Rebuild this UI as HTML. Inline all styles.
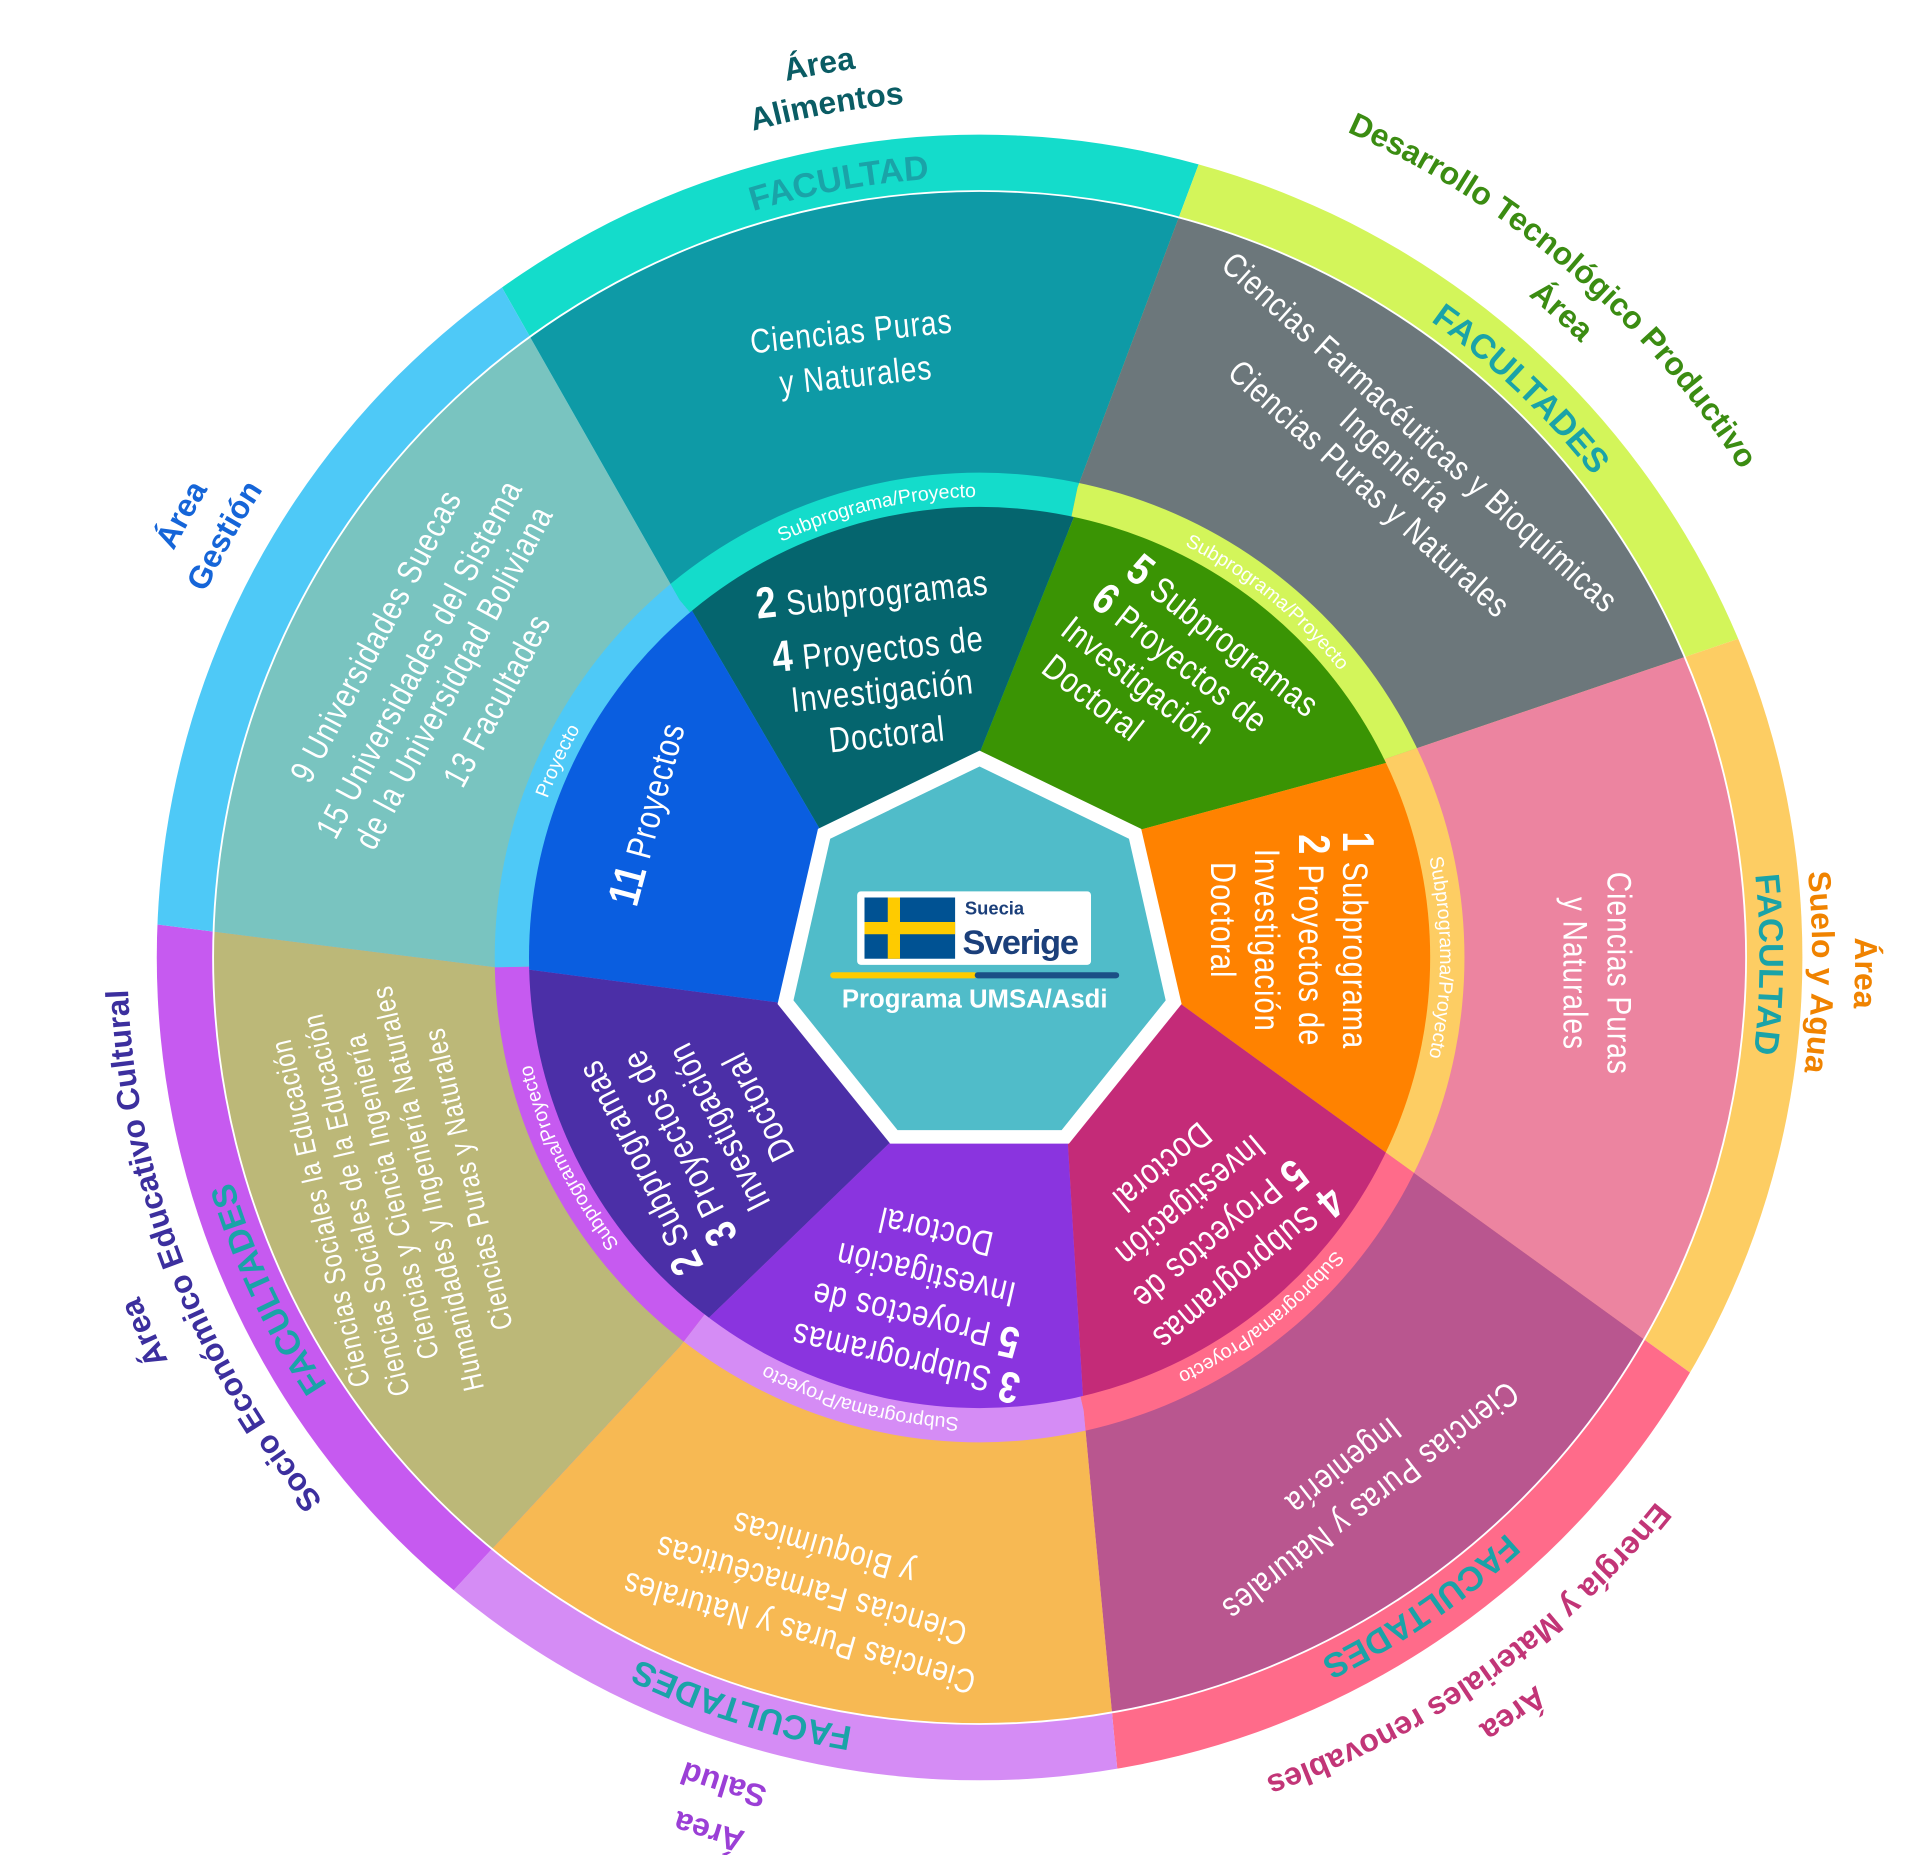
<!DOCTYPE html>
<html><head><meta charset="utf-8">
<style>
html,body{margin:0;padding:0;background:#fff;width:1920px;height:1855px;overflow:hidden;}
svg{display:block;}
text{font-family:"Liberation Sans Narrow","Liberation Sans",sans-serif;}
.w{fill:#fff;font-size:28px;letter-spacing:1px;}
.b{font-weight:bold;}
.band{fill:#fff;font-size:16px;letter-spacing:0px;}
.fac{font-size:28px;font-weight:bold;letter-spacing:0px;}
.area{font-size:26px;font-weight:bold;letter-spacing:0px;}
</style></head>
<body>
<svg width="1920" height="1855" viewBox="0 0 1568 1515" xmlns="http://www.w3.org/2000/svg">
<defs>
<clipPath id="c4"><circle cx="800" cy="782" r="672"/></clipPath>
<clipPath id="c3"><circle cx="800" cy="782" r="626"/></clipPath>
<clipPath id="c2"><circle cx="800" cy="782" r="396"/></clipPath>
<clipPath id="c1"><circle cx="800" cy="782" r="368"/></clipPath>
<path id="p376" d="M800,1158 A376,376 0 1 1 800,406 A376,376 0 1 1 800,1158"/>
<path id="p637" d="M800,1419 A637,637 0 1 1 800,145 A637,637 0 1 1 800,1419"/>
<path id="p733" d="M800,1515 A733,733 0 1 1 800,49 A733,733 0 1 1 800,1515"/>
<path id="p700" d="M800,1482 A700,700 0 1 1 800,82 A700,700 0 1 1 800,1482"/>
<path id="p737" d="M800,1519 A737,737 0 1 1 800,45 A737,737 0 1 1 800,1519"/>
<path id="p705" d="M800,1487 A705,705 0 1 1 800,77 A705,705 0 1 1 800,1487"/>
<path id="p715" d="M800,1497 A715,715 0 1 1 800,67 A715,715 0 1 1 800,1497"/>
<path id="p680" d="M800,1462 A680,680 0 1 1 800,102 A680,680 0 1 1 800,1462"/>
<path id="p748" d="M800,1530 A748,748 0 1 1 800,34 A748,748 0 1 1 800,1530"/>
<path id="p709" d="M800,1491 A709,709 0 1 1 800,73 A709,709 0 1 1 800,1491"/>
<path id="p739" d="M800,1521 A739,739 0 1 1 800,43 A739,739 0 1 1 800,1521"/>
<path id="p699" d="M800,1481 A699,699 0 1 1 800,83 A699,699 0 1 1 800,1481"/>
<path id="p740" d="M800,1522 A740,740 0 1 1 800,42 A740,740 0 1 1 800,1522"/>
<path id="p696" d="M800,1478 A696,696 0 1 1 800,86 A696,696 0 1 1 800,1478"/>
<path id="p702" d="M800,1484 A702,702 0 1 1 800,80 A702,702 0 1 1 800,1484"/>
<path id="p738" d="M800,1520 A738,738 0 1 1 800,44 A738,738 0 1 1 800,1520"/>
</defs>

<g clip-path="url(#c4)">
<polygon fill="#14dccb" points="800,782 555,490 265,-20 592,-400 1090,-162 880,398"/>
<polygon fill="#d3f55a" points="800,782 880,398 1090,-162 1587,-124 1695,428 1125,622"/>
<polygon fill="#fdcd63" points="800,782 1125,622 1695,428 1998,845 1600,1280 1130,940"/>
<polygon fill="#ff6b8a" points="800,782 1130,940 1600,1280 1488,1765 939,1728 885,1152"/>
<polygon fill="#d58cf5" points="800,782 885,1152 939,1728 449,1930 165,1520 555,1100"/>
<polygon fill="#c65af0" points="800,782 555,1100 165,1520 -296,1270 -149,720 405,790"/>
<polygon fill="#4ec9f7" points="800,782 405,790 -149,720 -260,219 265,-20 555,490"/>
</g>
<g clip-path="url(#c3)">
<polygon fill="#0e9aa6" points="800,782 555,490 265,-20 592,-400 1090,-162 880,398"/>
<polygon fill="#6c777b" points="800,782 880,398 1090,-162 1587,-124 1695,428 1125,622"/>
<polygon fill="#ec84a0" points="800,782 1125,622 1695,428 1998,845 1600,1280 1130,940"/>
<polygon fill="#b9568f" points="800,782 1130,940 1600,1280 1488,1765 939,1728 885,1152"/>
<polygon fill="#f7b953" points="800,782 885,1152 939,1728 449,1930 165,1520 555,1100"/>
<polygon fill="#bcb878" points="800,782 555,1100 165,1520 -296,1270 -149,720 405,790"/>
<polygon fill="#79c4c0" points="800,782 405,790 -149,720 -260,219 265,-20 555,490"/>
</g>
<circle cx="800" cy="782" r="626" fill="none" stroke="#fff" stroke-width="1.5"/>
<g clip-path="url(#c2)">
<polygon fill="#14dccb" points="800,782 555,490 265,-20 592,-400 1090,-162 880,398"/>
<polygon fill="#d3f55a" points="800,782 880,398 1090,-162 1587,-124 1695,428 1125,622"/>
<polygon fill="#fdcd63" points="800,782 1125,622 1695,428 1998,845 1600,1280 1130,940"/>
<polygon fill="#ff6b8a" points="800,782 1130,940 1600,1280 1488,1765 939,1728 885,1152"/>
<polygon fill="#d58cf5" points="800,782 885,1152 939,1728 449,1930 165,1520 555,1100"/>
<polygon fill="#c65af0" points="800,782 555,1100 165,1520 -296,1270 -149,720 405,790"/>
<polygon fill="#4ec9f7" points="800,782 405,790 -149,720 -260,219 265,-20 555,490"/>
</g>
<g clip-path="url(#c1)">
<polygon fill="#05656e" points="800,782 670,678 340,114 592,-400 1040,15 800,615"/>
<polygon fill="#3a9404" points="800,782 800,615 1040,15 1649,-67 1515,519 930,678"/>
<polygon fill="#ff8200" points="800,782 930,678 1515,519 1982,990 1464,1182 963,819"/>
<polygon fill="#c42b78" points="800,782 963,819 1464,1182 1400,1821 911,1586 872,932"/>
<polygon fill="#8a34df" points="800,782 872,932 911,1586 390,1910 269,1376 728,932"/>
<polygon fill="#4b2fa7" points="800,782 728,932 269,1376 -313,1232 25,738 637,819"/>
<polygon fill="#0a5ee0" points="800,782 637,819 25,738 -239,182 340,114 670,678"/>
</g>
<polygon fill="#fff" points="800,613 932,677 965,820 873,934 727,934 635,820 668,677"/>
<polygon fill="#50bcc9" points="800,626 922,685 952,817 867,923 733,923 648,817 678,685"/>

<rect x="700" y="728" width="191" height="60" rx="3" fill="#fff"/>
<rect x="706" y="733" width="74" height="50" fill="#005293"/>
<rect x="725" y="733" width="10" height="50" fill="#fecb00"/>
<rect x="706" y="753" width="74" height="10" fill="#fecb00"/>
<text x="788" y="747" style="font-family:'Liberation Sans',sans-serif;font-size:15px;font-weight:bold;fill:#1b3f7a">Suecia</text>
<text x="786" y="779" style="font-family:'Liberation Sans',sans-serif;font-size:28px;font-weight:bold;fill:#1b3f7a;letter-spacing:-1px">Sverige</text>
<rect x="678" y="794" width="120" height="5" rx="2.5" fill="#fecb00"/>
<rect x="796" y="794" width="118" height="5" rx="2.5" fill="#1b4f86"/>
<text x="796" y="823" text-anchor="middle" style="font-family:'Liberation Sans',sans-serif;font-size:21px;font-weight:bold;fill:#fff">Programa UMSA/Asdi</text>

<g class="band" text-anchor="middle">
<text><textPath href="#p376" startOffset="46.39%">Subprograma/Proyecto</textPath></text>
<text><textPath href="#p376" startOffset="60.83%">Subprograma/Proyecto</textPath></text>
<text><textPath href="#p376" startOffset="75%">Subprograma/Proyecto</textPath></text>
<text><textPath href="#p376" startOffset="89.44%">Subprograma/Proyecto</textPath></text>
<text><textPath href="#p376" startOffset="4.2%">Subprograma/Proyecto</textPath></text>
<text><textPath href="#p376" startOffset="17.78%">Subprograma/Proyecto</textPath></text>
<text><textPath href="#p376" startOffset="31.94%">Proyecto</textPath></text>
</g>

<g class="fac" text-anchor="middle" fill="#1aa3a8">
<text><textPath href="#p637" startOffset="47.14%">FACULTAD</textPath></text>
<text><textPath href="#p637" startOffset="62.11%">FACULTADES</textPath></text>
<text><textPath href="#p637" startOffset="75.14%">FACULTAD</textPath></text>
<text><textPath href="#p637" startOffset="90.5%">FACULTADES</textPath></text>
<text><textPath href="#p637" startOffset="4.9%">FACULTADES</textPath></text>
<text><textPath href="#p637" startOffset="18.06%">FACULTADES</textPath></text>
</g>

<g class="area" text-anchor="middle">
<text fill="#0a5c64"><textPath href="#p733" startOffset="47.17%">Área</textPath></text>
<text fill="#0a5c64"><textPath href="#p700" startOffset="47.17%">Alimentos</textPath></text>
<text fill="#3b8c12"><textPath href="#p702" startOffset="61.67%">Área</textPath></text>
<text fill="#3b8c12"><textPath href="#p738" startOffset="61.3%">Desarrollo Tecnológico Productivo</textPath></text>
<text fill="#f08300"><textPath href="#p715" startOffset="75.28%">Área</textPath></text>
<text fill="#f08300"><textPath href="#p680" startOffset="75.28%">Suelo y Agua</textPath></text>
<text fill="#c23577"><textPath href="#p748" startOffset="90.22%">Área</textPath></text>
<text fill="#c23577"><textPath href="#p709" startOffset="90.22%">Energía y Materiales renovables</textPath></text>
<text fill="#9b3fd6"><textPath href="#p739" startOffset="4.78%">Área</textPath></text>
<text fill="#9b3fd6"><textPath href="#p699" startOffset="4.78%">Salud</textPath></text>
<text fill="#3c2f9e"><textPath href="#p740" startOffset="18.28%">Área</textPath></text>
<text fill="#3c2f9e"><textPath href="#p696" startOffset="19.2%">Socio Económico Educativo Cultural</textPath></text>
<text fill="#1565d8"><textPath href="#p737" startOffset="33.06%">Área</textPath></text>
<text fill="#1565d8"><textPath href="#p699" startOffset="33.11%">Gestión</textPath></text>
</g>

<g class="w" text-anchor="middle">
<g transform="translate(697,288) rotate(-6) scale(0.82,1)">
<text x="0" y="-8">Ciencias Puras</text>
<text x="0" y="28">y Naturales</text>
</g>
<g transform="translate(1140,375) rotate(42) scale(0.82,1)">
<text x="0" y="-20">Ciencias Farmacéuticas y Bioquímicas</text>
<text x="0" y="10">Ingeniería</text>
<text x="0" y="42">Ciencias Puras y Naturales</text>
</g>
<g transform="translate(1305,795) rotate(90) scale(0.82,1)">
<text x="0" y="-8">Ciencias Puras</text>
<text x="0" y="28">y Naturales</text>
</g>
<g transform="translate(1095,1195) rotate(142) scale(0.82,1)">
<text x="0" y="-30">Ciencias Puras y Naturales</text>
<text x="0" y="6">Ingeniería</text>
</g>
<g transform="translate(665,1290) rotate(196) scale(0.82,1)">
<text x="0" y="-36">Ciencias Puras y Naturales</text>
<text x="0" y="0">Ciencias Farmacéuticas</text>
<text x="0" y="36">y Bioquímicas</text>
</g>
<g transform="translate(330,975) rotate(-103) scale(0.8,1)" style="font-size:24px">
<text x="0" y="-62">Ciencias Sociales  la Educación</text>
<text x="0" y="-32">Ciencias Sociales de la Educación</text>
<text x="0" y="-2">Ciencias y Ciencia Ingeniería</text>
<text x="0" y="28">Humanidades y Ingeniería Naturales</text>
<text x="0" y="62">Ciencias Puras y Naturales</text>
</g>
<g transform="translate(355,545) rotate(-62) scale(0.82,1)">
<text x="0" y="-45">9 Universidades Suecas</text>
<text x="0" y="-5">15 Universidades del Sistema</text>
<text x="0" y="27">de la Universidqad Boliviana</text>
<text x="0" y="67">13 Facultades</text>
</g>
</g>

<g class="w" style="font-size:29px">
<g transform="translate(718,540) rotate(-6) scale(0.82,1)" text-anchor="middle">
<text x="0" y="-45"><tspan class="b" style="font-size:36px">2</tspan> Subprogramas</text>
<text x="0" y="0"><tspan class="b" style="font-size:36px">4</tspan> Proyectos de</text>
<text x="0" y="34">Investigación</text>
<text x="0" y="70">Doctoral</text>
</g>
<g transform="translate(955,550) rotate(38) scale(0.82,1)" text-anchor="middle">
<text x="20" y="-40"><tspan class="b" style="font-size:36px">5</tspan> Subprogramas</text>
<text x="0" y="-4"><tspan class="b" style="font-size:36px">6</tspan> Proyectos de</text>
<text x="-20" y="30">Investigación</text>
<text x="-45" y="64">Doctoral</text>
</g>
<g transform="translate(1045,768) rotate(90) scale(0.82,1)" text-anchor="middle">
<text x="0" y="-52"><tspan class="b" style="font-size:36px">1</tspan> Subprograma</text>
<text x="0" y="-16"><tspan class="b" style="font-size:36px">2</tspan> Proyectos de</text>
<text x="0" y="20">Investigación</text>
<text x="-20" y="56">Doctoral</text>
</g>
<g transform="translate(980,990) rotate(140) scale(0.82,1)" text-anchor="middle">
<text x="0" y="-50"><tspan class="b" style="font-size:36px">4</tspan> Subprogramas</text>
<text x="0" y="-14"><tspan class="b" style="font-size:36px">5</tspan> Proyectos de</text>
<text x="0" y="22">Investigación</text>
<text x="0" y="58">Doctoral</text>
</g>
<g transform="translate(755,1045) rotate(193) scale(0.82,1)" text-anchor="middle">
<text x="0" y="-58"><tspan class="b" style="font-size:36px">3</tspan> Subprogramas</text>
<text x="0" y="-22"><tspan class="b" style="font-size:36px">5</tspan> Proyectos de</text>
<text x="0" y="14">Investigación</text>
<text x="0" y="50">Doctoral</text>
</g>
<g transform="translate(578,925) rotate(243) scale(0.82,1)" text-anchor="middle">
<text x="0" y="-52"><tspan class="b" style="font-size:36px">2</tspan> Subprogramas</text>
<text x="0" y="-16"><tspan class="b" style="font-size:36px">3</tspan> Proyectos de</text>
<text x="0" y="20">Investigación</text>
<text x="0" y="56">Doctoral</text>
</g>
<g transform="translate(530,665) rotate(-75) scale(0.82,1)" text-anchor="middle">
<text x="0" y="10"><tspan class="b" style="font-size:36px">11</tspan> Proyectos</text>
</g>
</g>
</svg>
</body></html>
